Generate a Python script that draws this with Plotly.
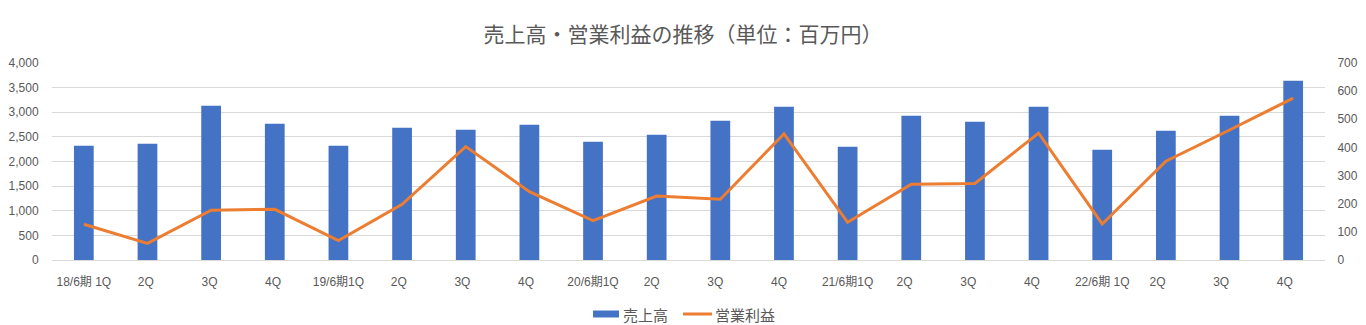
import plotly.graph_objects as go

# Quarterly periods (fiscal year ending June)
quarters = [
    "18/6期 1Q", "2Q ", "3Q ", "4Q ",
    "19/6期1Q", "2Q  ", "3Q  ", "4Q  ",
    "20/6期1Q", "2Q   ", "3Q   ", "4Q   ",
    "21/6期1Q", "2Q    ", "3Q    ", "4Q    ",
    "22/6期 1Q", "2Q     ", "3Q     ", "4Q     ",
]

# Net sales (millions of yen)
sales = [
    2318, 2359, 3132, 2766,
    2318, 2684, 2643, 2745,
    2400, 2542, 2827, 3111,
    2298, 2928, 2806, 3111,
    2237, 2623, 2928, 3640,
]

# Operating income (millions of yen)
operating_income = [
    127, 59, 177, 180,
    69, 198, 403, 243,
    140, 227, 216, 448,
    134, 269, 272, 451,
    128, 351, 462, 575,
]

left_ticks = [0, 500, 1000, 1500, 2000, 2500, 3000, 3500, 4000]
right_ticks = [0, 100, 200, 300, 400, 500, 600, 700]

W, H = 1366, 325
ML, MR, MT, MB = 52, 41, 63, 65
PW, PH = W - ML - MR, H - MT - MB

FONT = "Liberation Sans, 'Noto Sans CJK JP', sans-serif"
CJK = "'Noto Sans CJK JP', sans-serif"
TEXT = "#595959"
BAR_COLOR = "#4472C4"
LINE_COLOR = "#ED7D31"


def px_x(px):
    return (px - ML) / PW


def px_y(py):
    return (H - MB - py) / PH


fig = go.Figure()
fig.add_trace(go.Bar(
    x=quarters, y=sales, name="売上高",
    marker=dict(color=BAR_COLOR, line=dict(width=0)),
    yaxis="y",
))
fig.add_trace(go.Scatter(
    x=quarters, y=operating_income, name="営業利益",
    mode="lines", line=dict(color=LINE_COLOR, width=3),
    yaxis="y2",
))

# Legend drawn below the plot: wide bar swatch and line swatch with labels
legend_y = 314
fig.add_shape(type="rect", xref="paper", yref="paper",
              x0=px_x(593), x1=px_x(619), y0=px_y(317.5), y1=px_y(310.5),
              fillcolor=BAR_COLOR, line=dict(width=0))
fig.add_shape(type="line", xref="paper", yref="paper",
              x0=px_x(683), x1=px_x(712), y0=px_y(legend_y), y1=px_y(legend_y),
              line=dict(color=LINE_COLOR, width=3))
fig.add_annotation(text="売上高", xref="paper", yref="paper",
                   x=px_x(621), y=px_y(legend_y), xanchor="left", yanchor="middle",
                   showarrow=False, font=dict(family=CJK, size=15, color=TEXT))
fig.add_annotation(text="営業利益", xref="paper", yref="paper",
                   x=px_x(713), y=px_y(legend_y), xanchor="left", yanchor="middle",
                   showarrow=False, font=dict(family=CJK, size=15, color=TEXT))

fig.update_layout(
    width=W, height=H,
    margin=dict(l=ML, r=MR, t=MT, b=MB, autoexpand=False),
    paper_bgcolor="white", plot_bgcolor="white",
    font=dict(family=FONT, size=12, color=TEXT),
    title=dict(
        text="売上高・営業利益の推移（単位：百万円）",
        x=0.5, xanchor="center", y=1 - 35 / H, yanchor="middle",
        font=dict(family=CJK, size=21, color=TEXT),
    ),
    bargap=0.69,
    showlegend=False,
    xaxis=dict(
        type="category", showgrid=False, showline=True,
        linecolor="#D9D9D9", linewidth=1,
        ticks="outside", ticklen=11, tickcolor="rgba(0,0,0,0)",
        tickfont=dict(size=12, color=TEXT), tickangle=0,
        automargin=False,
    ),
    yaxis=dict(
        range=[0, 4000], tickvals=left_ticks, tickformat=",",
        showgrid=True, gridcolor="#D9D9D9", gridwidth=1,
        zeroline=False, showline=False,
        ticks="outside", ticklen=10, tickcolor="rgba(0,0,0,0)",
        tickfont=dict(size=12, color=TEXT), automargin=False,
    ),
    yaxis2=dict(
        range=[0, 700], tickvals=right_ticks, overlaying="y", side="right",
        showgrid=False, zeroline=False, showline=False,
        ticks="outside", ticklen=9, tickcolor="rgba(0,0,0,0)",
        tickfont=dict(size=12, color=TEXT), automargin=False,
    ),
)

fig.write_html("out.html")
